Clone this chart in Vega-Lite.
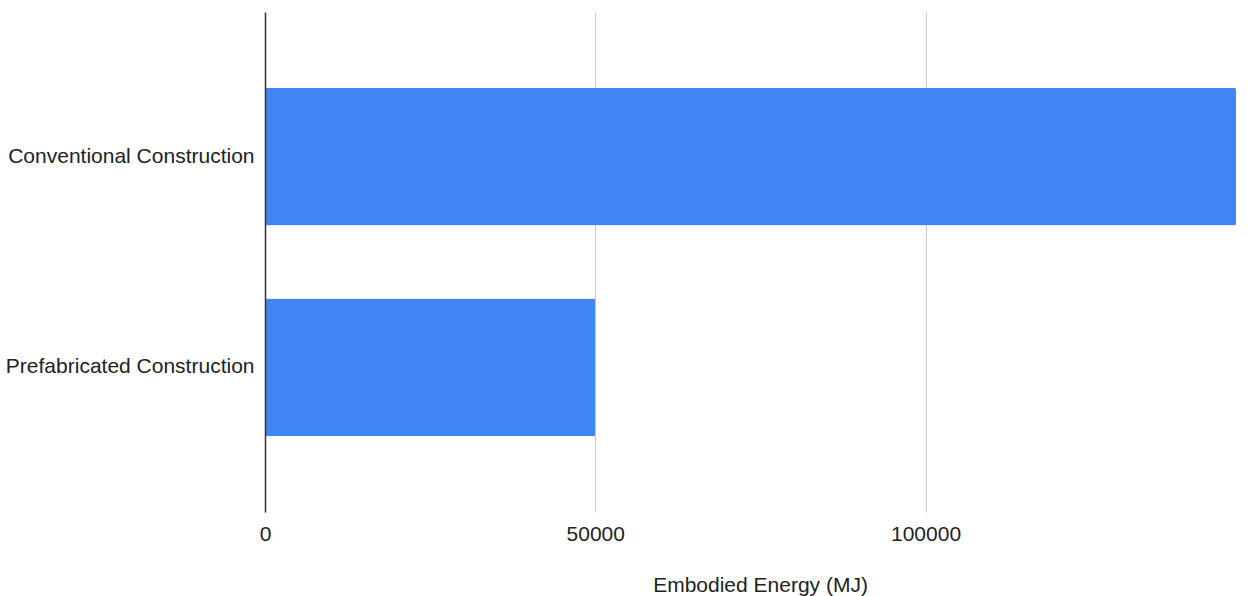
{
  "$schema": "https://vega.github.io/schema/vega-lite/v6.json",
  "width": 971,
  "height": 500,
  "autosize": "none",
  "padding": {"left": 265, "top": 12, "right": 17, "bottom": 84},
  "background": "white",
  "config": {
    "view": {"stroke": null},
    "font": "Liberation Sans",
    "axis": {"labelFont": "Liberation Sans", "titleFont": "Liberation Sans", "labelColor": "#222222", "titleColor": "#222222"}
  },
  "data": {
    "values": [
      {"method": "Conventional Construction", "energy": 147000},
      {"method": "Prefabricated Construction", "energy": 50000}
    ]
  },
  "mark": {"type": "bar", "color": "#4285F4", "cornerRadiusEnd": 2},
  "encoding": {
    "y": {
      "field": "method",
      "type": "nominal",
      "sort": null,
      "scale": {"paddingInner": 0.347, "paddingOuter": 0.36},
      "axis": {
        "title": null,
        "ticks": false,
        "labelPadding": 11,
        "labelFontSize": 21,
        "labelLimit": 0,
        "labelFontWeight": "normal",
        "domainColor": "#333333",
        "domainWidth": 1.5,
        "zindex": 1
      }
    },
    "x": {
      "field": "energy",
      "type": "quantitative",
      "scale": {"domain": [0, 147000], "nice": false},
      "axis": {
        "title": "Embodied Energy (MJ)",
        "values": [0, 50000, 100000],
        "format": "d",
        "grid": true,
        "gridColor": "#cccccc",
        "gridWidth": 1,
        "domain": false,
        "ticks": false,
        "labelFlush": false,
        "labelPadding": 11,
        "labelFontSize": 21,
        "labelBaseline": "top",
        "titleFontSize": 21,
        "titleFontWeight": "normal",
        "titleBaseline": "middle",
        "titleAlign": "center",
        "titleX": 495,
        "titleY": 73,
        "zindex": 0
      }
    }
  }
}
